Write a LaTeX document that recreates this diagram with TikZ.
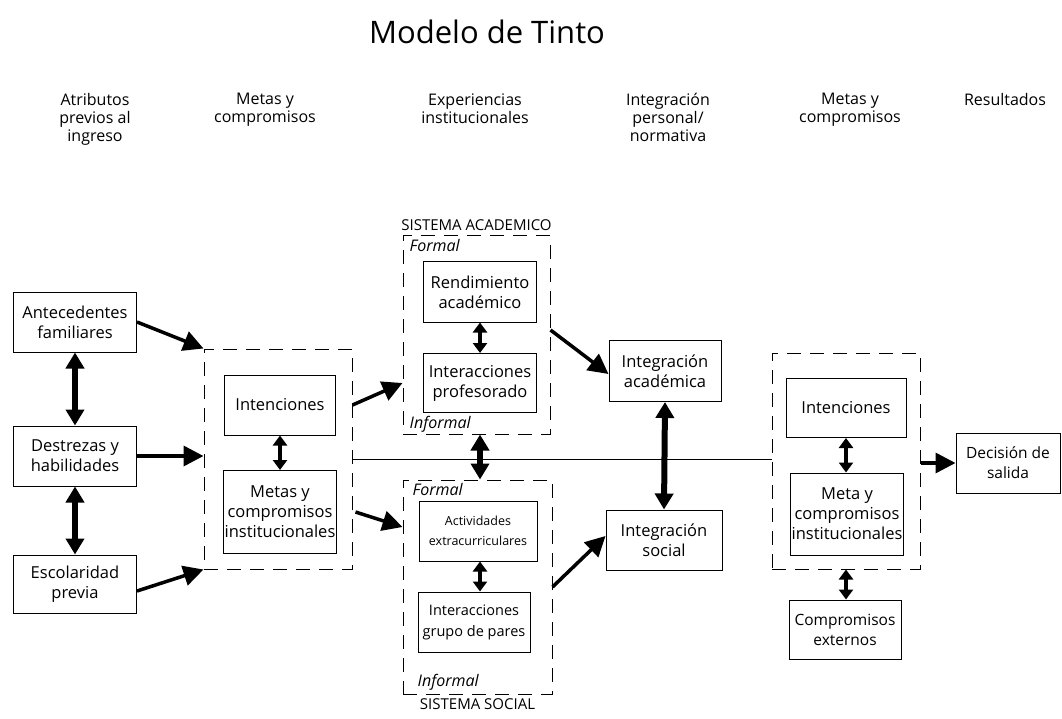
\documentclass[tikz,border=0pt]{standalone}
\usepackage{fontspec}
\setmainfont{Open Sans}
\usetikzlibrary{positioning, arrows.meta}

\begin{document}
\begin{tikzpicture}[x=1pt, y=-1pt,
        caja/.style={draw, line width=1pt, align=center, inner sep=1pt,
                     font=\fontsize{16.5}{20}\selectfont},
        chica/.style={font=\fontsize{12.5}{20}\selectfont},
        media/.style={font=\fontsize{14.5}{21}\selectfont},
        mediana/.style={font=\fontsize{15.5}{20}\selectfont},
        grupo/.style={draw, line width=1pt, dash pattern=on 14pt off 9pt, inner sep=0pt},
        cabeza/.style={anchor=north, align=center, font=\fontsize{16}{18}\selectfont},
        rotulo/.style={font=\fontsize{15}{16}\selectfont},
        etiq/.style={font=\fontsize{16}{16}\selectfont\itshape, inner sep=1pt},
        flecha/.style={-{Triangle[length=20pt, width=20pt]}, line width=3.5pt},
        doble/.style={{Triangle[length=10pt, width=14pt]}-{Triangle[length=10pt, width=14pt]}, line width=4pt},
        gruesa/.style={{Triangle[length=16pt, width=18pt]}-{Triangle[length=16pt, width=18pt]}, line width=6pt}]
    \useasboundingbox (0,0) rectangle (1062,719);

    % TITLE AND HEADERS
    \node (titulo) at (487,32) {\fontsize{31}{34}\selectfont Modelo de Tinto};
    \node[cabeza] (h1) at (95,90) {Atributos\\previos al\\ingreso};
    \node[cabeza] (h2) at (265,90) {Metas y\\compromisos};
    \node[cabeza] (h3) at (475,90) {Experiencias\\institucionales};
    \node[cabeza] (h4) at (668,90) {Integración\\personal/\\normativa};
    \node[cabeza] (h5) at (850,90) {Metas y\\compromisos};
    \node[cabeza] (h6) at (1005,90) {Resultados};

    % PREVIOUS ATTRIBUTES
    \node[caja, minimum width=123pt, minimum height=60pt] (fam) at (75,322) {Antecedentes\\familiares};
    \node[caja, minimum width=123pt, minimum height=60pt] (des) at (75,456) {Destrezas y\\habilidades};
    \node[caja, minimum width=123pt, minimum height=58pt] (esc) at (75,584) {Escolaridad\\previa};

    % GOALS AND COMMITMENTS
    \node[grupo, minimum width=148pt, minimum height=220pt] (entrada) at (278,459) {};
    \node[caja, minimum width=111pt, minimum height=60pt] (int1) at (280,405) {Intenciones};
    \node[caja, minimum width=111pt, minimum height=83pt] (met1) at (280,512) {Metas y\\compromisos\\institucionales};

    % ACADEMIC SYSTEM
    \node[grupo, minimum width=147pt, minimum height=198pt] (acad) at (476.5,335) {};
    \node[rotulo, above=1pt of acad] (lacad) {SISTEMA ACADEMICO};
    \node[etiq, anchor=north west] (f1) at ([xshift=6pt, yshift=-3pt]acad.north west) {Formal};
    \node[caja, minimum width=113pt, minimum height=60pt] (ren) at (480,292) {Rendimiento\\académico};
    \node[caja, minimum width=113pt, minimum height=59pt] (prof) at (480,383) {Interacciones\\profesorado};
    \node[etiq, anchor=south west, fill=white] (i1) at ([xshift=6pt, yshift=1pt]acad.south west) {Informal};

    % SOCIAL SYSTEM
    \node[grupo, minimum width=149pt, minimum height=214pt] (social) at (477.5,587) {};
    \node[rotulo, below=1pt of social] (lsoc) {SISTEMA SOCIAL};
    \node[etiq, anchor=north west] (f2) at ([xshift=9pt, yshift=-3pt]social.north west) {Formal};
    \node[caja, chica, minimum width=118pt, minimum height=60pt] (act) at (478,531) {Actividades\\extracurriculares};
    \node[caja, media, minimum width=112pt, minimum height=60pt] (par) at (474,622) {Interacciones\\grupo de pares};
    \node[etiq, anchor=south west, fill=white] (i2) at ([xshift=14pt, yshift=3pt]social.south west) {Informal};

    % INTEGRATION
    \node[caja, minimum width=112pt, minimum height=61pt] (iacad) at (665,371) {Integración\\académica};
    \node[caja, minimum width=116pt, minimum height=60pt] (isoc) at (664,540) {Integración\\social};

    % GOALS AND COMMITMENTS (LATER)
    \node[grupo, minimum width=148pt, minimum height=216pt] (salida) at (846,461) {};
    \node[caja, minimum width=120pt, minimum height=59pt] (int2) at (846,408) {Intenciones};
    \node[caja, minimum width=112pt, minimum height=82pt] (met2) at (847,514) {Meta y\\compromisos\\institucionales};
    \node[caja, mediana, minimum width=112pt, minimum height=59pt] (ext) at (845,629.5) {Compromisos\\externos};

    % OUTCOME
    \node[caja, mediana, minimum width=104pt, minimum height=60pt] (dec) at (1008,463) {Decisión de\\salida};

    % CONNECTIONS
    \draw[line width=1pt] (entrada.east) -- (entrada.east -| salida.west);
    \draw[flecha] (fam.east) -- (entrada.north west);
    \draw[flecha] (des.east) -- (entrada.west |- des.east);
    \draw[flecha] ([yshift=-7pt]esc.east) -- (entrada.south west);
    \draw[gruesa] (fam.south) -- (des.north);
    \draw[gruesa] (des.south) -- (esc.north);
    \draw[doble] (int1.south) -- (met1.north);
    \draw[flecha] (entrada.east |- int1) -- (acad.west |- prof);
    \draw[flecha] ([xshift=3pt]entrada.east |- met1) -- ([yshift=4pt]social.west |- act);
    \draw[doble] (ren.south) -- (prof.south |- prof.north);
    \draw[doble] (act.south -| ren) -- (par.north -| ren);
    \draw[gruesa] (acad.south -| prof) -- (social.north -| prof);
    \draw[flecha] ([yshift=5pt]acad.east) -- ([yshift=-3pt]iacad.west);
    \draw[flecha] (social.east) -- ([yshift=4pt]isoc.west);
    \draw[gruesa] (iacad.south) -- (isoc.north);
    \draw[doble] (int2.south) -- (int2.south |- met2.north);
    \draw[doble] (salida.south -| int2) -- (ext.north -| int2);
    \draw[flecha] (salida.east |- dec) -- (dec.west);
\end{tikzpicture}
\end{document}
